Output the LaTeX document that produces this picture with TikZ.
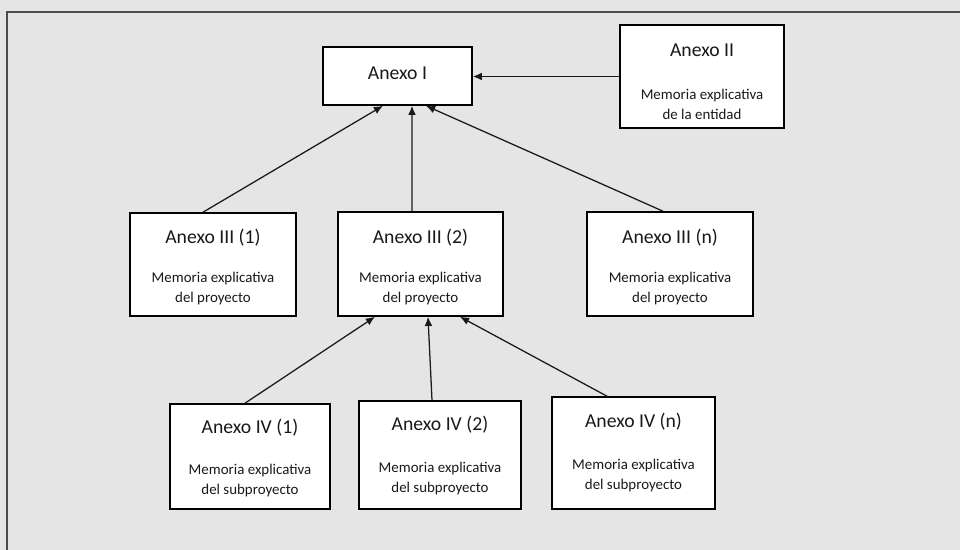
\documentclass[tikz,border=0pt]{standalone}
\usepackage{fontspec}
\setmainfont{Carlito}
\usetikzlibrary{arrows.meta,calc}

\begin{document}
\begin{tikzpicture}[x=0.025cm, y=-0.025cm,
    caja/.style={draw=black, fill=white, line width=1.1pt, inner sep=0pt},
    titulo/.style={text=black!90, font=\fontsize{14}{16}\selectfont, inner sep=0pt, text height=9pt, text depth=0pt},
    memoria/.style={text=black!90, font=\fontsize{10.6}{14.2}\selectfont, align=center, inner sep=0pt},
    flecha/.style={-{Latex[length=6.5pt,width=5.5pt]}, line width=0.9pt, black!90}]
    % Fondo y marco
    \useasboundingbox (0,0) rectangle (960,550);
    \fill[black!10] (0,0) rectangle (960,550);
    \draw[black!70, line width=1pt] (960,12) -- (7,12) -- (7,550);

    % Anexo I y Anexo II
    \node[caja, minimum width=3.725cm, minimum height=1.45cm] (a1) at (397.5,76) {};
    \node[titulo] (a1t) at (397.5,73) {Anexo I};
    \node[caja, minimum width=4.1cm, minimum height=2.575cm] (a2) at (702,76.5) {};
    \node[titulo] (a2t) at (702,50) {Anexo II};
    \node[memoria] (a2m) at (702,104) {Memoria explicativa\\de la entidad};

    % Anexos III
    \node[caja, minimum width=4.15cm, minimum height=2.575cm] (a3a) at (213,264.5) {};
    \node[titulo] (a3at) at (213,237) {Anexo III (1)};
    \node[memoria] (a3am) at (213,289) {Memoria explicativa\\del proyecto};
    \node[caja, minimum width=4.125cm, minimum height=2.6cm] (a3b) at (420.5,264) {};
    \node[titulo] (a3bt) at (420.5,237) {Anexo III (2)};
    \node[memoria] (a3bm) at (420.5,289) {Memoria explicativa\\del proyecto};
    \node[caja, minimum width=4.15cm, minimum height=2.6cm] (a3n) at (670,264) {};
    \node[titulo] (a3nt) at (670,237) {Anexo III (n)};
    \node[memoria] (a3nm) at (670,289) {Memoria explicativa\\del proyecto};

    % Anexos IV
    \node[caja, minimum width=4cm, minimum height=2.625cm] (a4a) at (250,456.5) {};
    \node[titulo] (a4at) at (250,427) {Anexo IV (1)};
    \node[memoria] (a4am) at (250,481) {Memoria explicativa\\del subproyecto};
    \node[caja, minimum width=4.05cm, minimum height=2.7cm] (a4b) at (440,455) {};
    \node[titulo] (a4bt) at (440,424) {Anexo IV (2)};
    \node[memoria] (a4bm) at (440,478.5) {Memoria explicativa\\del subproyecto};
    \node[caja, minimum width=4.075cm, minimum height=2.8cm] (a4n) at (633.5,453) {};
    \node[titulo] (a4nt) at (633.5,421) {Anexo IV (n)};
    \node[memoria] (a4nm) at (633.5,476) {Memoria explicativa\\del subproyecto};

    % Flechas
    \draw[flecha] (a2.west) -- (a2.west -| a1.east);
    \draw[flecha] ($(a3a.north)+(-10,0)$) -- ($(a1.south)+(-14.5,0)$);
    \draw[flecha] ($(a3b.north)+(-8.5,0)$) -- ($(a1.south)+(14.5,0)$);
    \draw[flecha] ($(a3n.north)+(-7,0)$) -- ($(a1.south)+(28.5,0)$);
    \draw[flecha] ($(a4a.north)+(-5,0)$) -- ($(a3b.south)+(-45.5,0)$);
    \draw[flecha] ($(a4b.north)+(-8,0)$) -- ($(a3b.south)+(7.5,0)$);
    \draw[flecha] ($(a4n.north)+(-26.5,0)$) -- ($(a3b.south)+(39.5,0)$);
\end{tikzpicture}
\end{document}
